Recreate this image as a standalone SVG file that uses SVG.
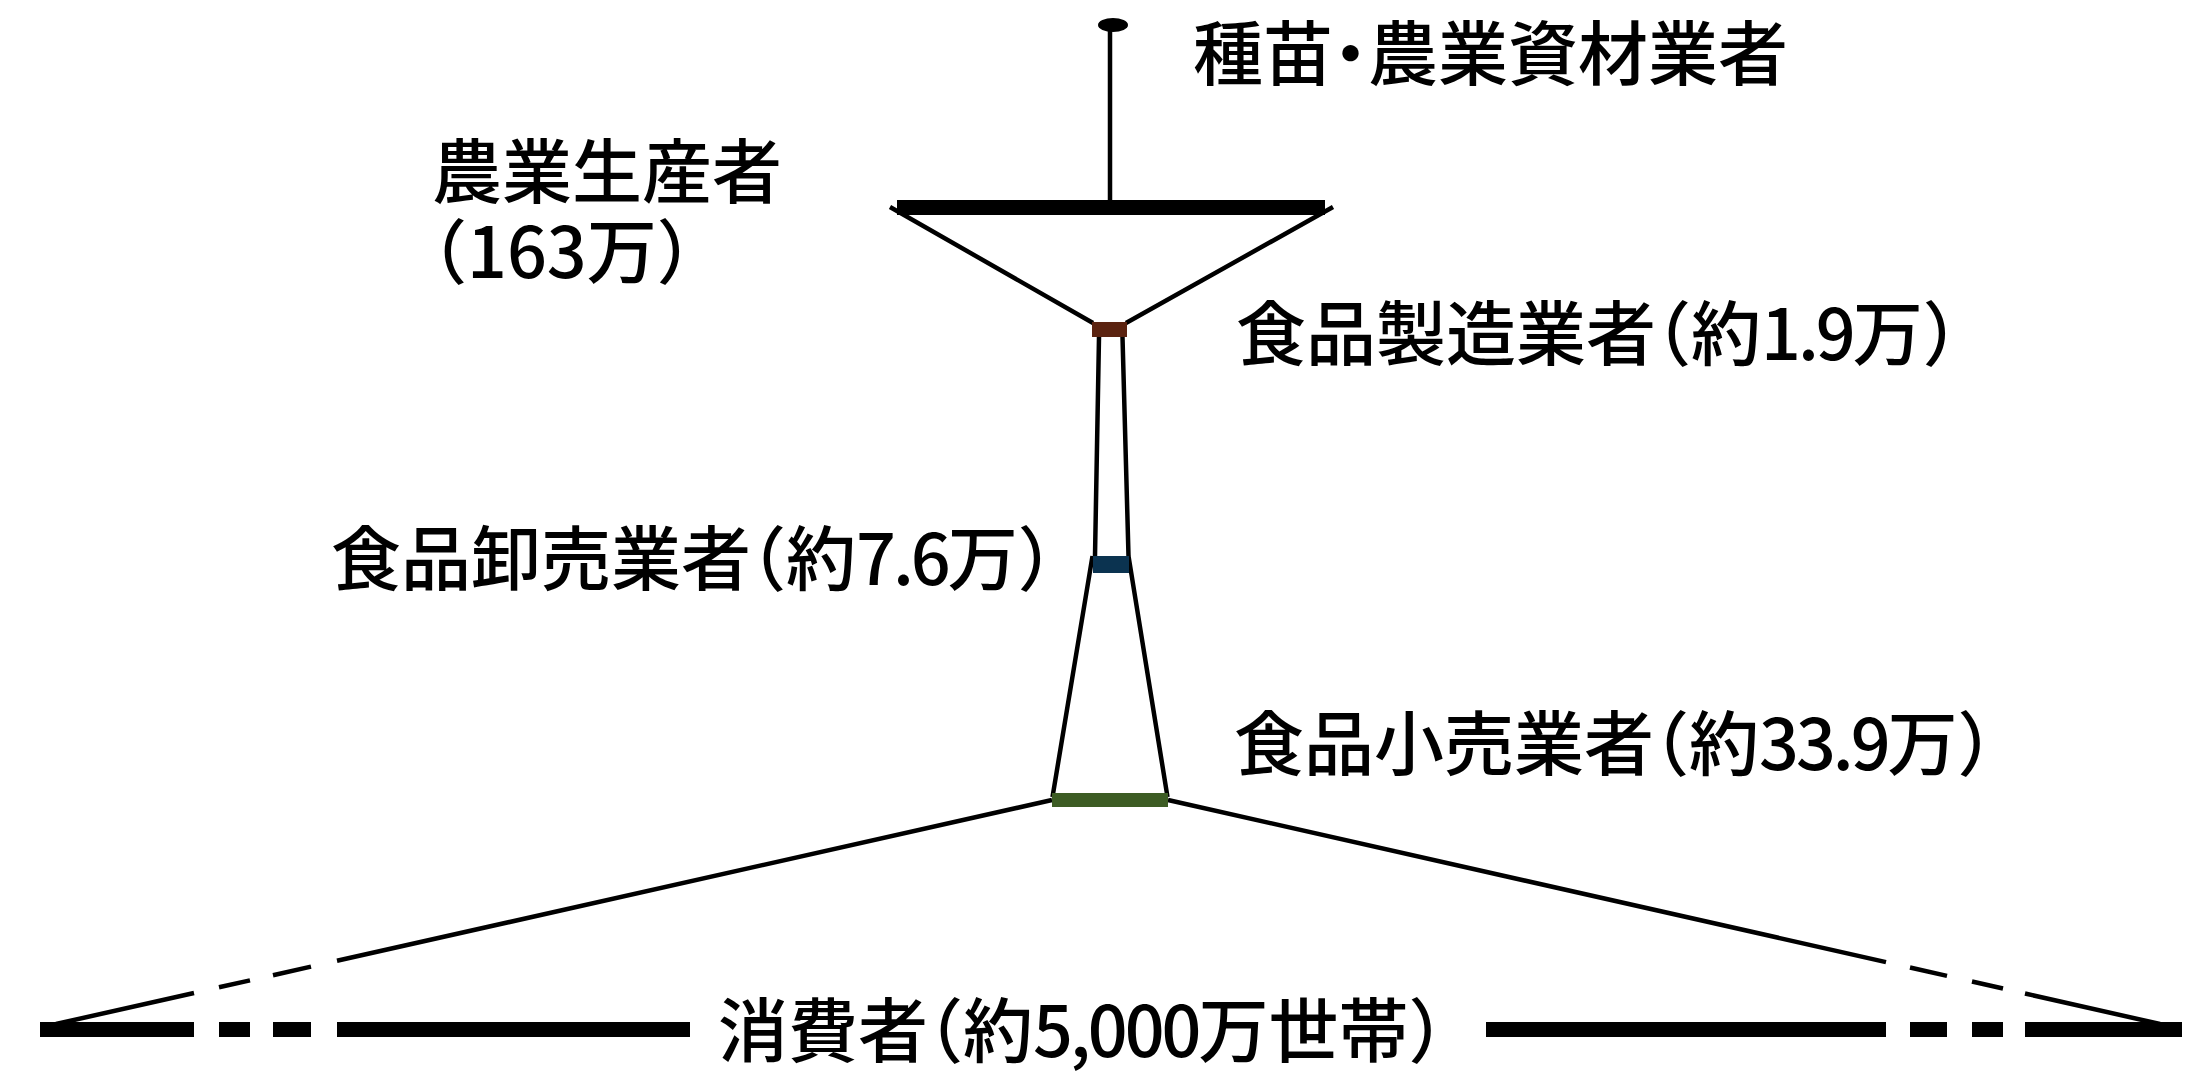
<svg xmlns="http://www.w3.org/2000/svg" width="2192" height="1080" viewBox="0 0 2192 1080">
<style>
.lbl{font-family:"Noto Sans CJK JP","Noto Sans CJK SC",sans-serif;font-size:70px;font-weight:500;fill:#000;font-feature-settings:"halt";}
.num{letter-spacing:-3px;}
.ln{stroke:#000;stroke-width:4.5;fill:none;}
.bar{fill:#000;}
</style>
<rect width="2192" height="1080" fill="#fff"/>
<g id="connectors">
<line class="ln" x1="1110" y1="25" x2="1110" y2="202"/>
<path class="ln" d="M890,207 L1093,323 M1333,207 L1126,323"/>
<path class="ln" d="M1099,337 L1095,556 M1122.5,337 L1128.5,556"/>
<path class="ln" d="M1092.5,556 L1052.5,797 M1128.5,556 L1167.5,797"/>
<path class="ln" d="M1052,800 L337,960.8 M311,966.6 L273,975.2 M250,980.4 L219,987.3 M194,993 L56,1024"/>
<path class="ln" d="M1168,800 L1886,962.1 M1910,967.5 L1947,975.9 M1972,981.5 L2003,988.5 M2025,993.5 L2160,1024"/>
</g>
<g id="node-seed">
<ellipse cx="1113" cy="25" rx="15" ry="7" fill="#000"/>
<text class="lbl" x="1193" y="80">種苗・農業資材業者</text>
</g>
<g id="node-farmers">
<rect class="bar" x="897" y="200" width="428" height="15"/>
<text class="lbl" x="432" y="198">農業生産者<tspan x="432" y="278">（163万）</tspan></text>
</g>
<g id="node-manufacturers">
<rect x="1092" y="322" width="35" height="15" fill="#5b2310"/>
<text class="lbl" x="1236" y="360">食品製造業者（約<tspan class="num">1.9</tspan>万）</text>
</g>
<g id="node-wholesalers">
<rect x="1093" y="556" width="36" height="17" fill="#0b3350"/>
<text class="lbl" x="331" y="585">食品卸売業者（約<tspan class="num">7.6</tspan>万）</text>
</g>
<g id="node-retailers">
<rect x="1052" y="793" width="116" height="14" fill="#3d5c24"/>
<text class="lbl" x="1234" y="770">食品小売業者（約<tspan class="num">33.9</tspan>万）</text>
</g>
<g id="node-consumers">
<rect class="bar" x="40" y="1022" width="154" height="15"/>
<rect class="bar" x="219" y="1022" width="31" height="15"/>
<rect class="bar" x="273" y="1022" width="38" height="15"/>
<rect class="bar" x="337" y="1022" width="353" height="15"/>
<rect class="bar" x="1486" y="1022" width="400" height="15"/>
<rect class="bar" x="1910" y="1022" width="37" height="15"/>
<rect class="bar" x="1972" y="1022" width="31" height="15"/>
<rect class="bar" x="2025" y="1022" width="157" height="15"/>
<text class="lbl" x="718" y="1057">消費者（約<tspan class="num">5,000</tspan>万世帯）</text>
</g>
</svg>
